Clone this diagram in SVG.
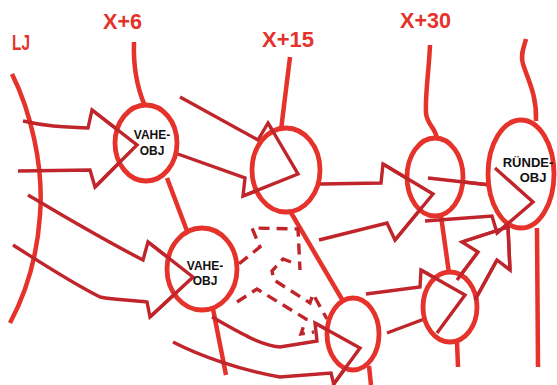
<svg xmlns="http://www.w3.org/2000/svg" width="557" height="385" viewBox="0 0 557 385">
<style>
.bg{fill:#ffffff}
.cell{fill:#ffffff;stroke:#e5322a;stroke-width:4.8}
.axon{fill:none;stroke:#e5322a;stroke-width:4.5;stroke-linecap:butt;stroke-linejoin:round}
.dend{fill:none;stroke:#c0252b;stroke-width:3.4;stroke-linejoin:miter;stroke-miterlimit:10}
.dash{fill:none;stroke:#c0252b;stroke-width:3.4;stroke-dasharray:11 7}
.lbl{font-family:"Liberation Sans",Arial,sans-serif;font-size:22px;font-weight:bold;fill:#e5322a}
.nt{font-family:"Liberation Sans",Arial,sans-serif;font-size:12px;font-weight:bold;fill:#111111;text-anchor:middle}
</style>
<rect class="bg" x="0" y="0" width="557" height="385"/>
<g id="labels">
<text class="lbl" x="12" y="50" textLength="18" lengthAdjust="spacingAndGlyphs">LJ</text>
<text class="lbl" x="103" y="29" textLength="39" lengthAdjust="spacingAndGlyphs">X+6</text>
<text class="lbl" x="262" y="47" textLength="52" lengthAdjust="spacingAndGlyphs">X+15</text>
<text class="lbl" x="400" y="28" textLength="51" lengthAdjust="spacingAndGlyphs">X+30</text>
</g>
<g id="connectors">
<path class="axon" d="M12,74 C30,110 44,165 40,215 C37,260 25,295 10,323"/>
<path class="axon" d="M134,42 C133,70 138,90 145,106"/>
<path class="axon" d="M167,178 L187,231"/>
<path class="axon" d="M213,309 L226,375"/>
<path class="axon" d="M290,57 L281,130"/>
<path class="axon" d="M290,211 L343,301"/>
<path class="axon" d="M369,366 L371,385"/>
<path class="axon" d="M430,45 C429,70 425,95 426,113 C427,125 436,128 437,139"/>
<path class="axon" d="M441,216 L449,273"/>
<path class="axon" d="M457,342 L458,367"/>
<path class="axon" d="M526,39 C524,47 520,55 523,64 C528,80 537,95 536,121"/>
<path class="axon" d="M537,228 L538,367"/>
<path class="dend" d="M23,121 C45,126 60,127 88,128 L92,110 L137,145 L95,187 L90,170 L18,171"/>
<path class="dend" d="M180,97 L258,140 L268,123 L298,174 L243,196 L245,178 L175,153"/>
<path class="dend" d="M320,184 L381,183 L383,164 L433,194 L395,240 L387,223 L319,240"/>
<path class="dend" d="M428,178 L490,185 L495,168 L533,202 L497,233 L492,216 L425,221"/>
<path class="dend" d="M457,280 L478,252 L462,242 L508,227 L510,270 L497,260 L475,300"/>
<path class="dend" d="M366,294 L420,287 L421,270 L465,295 L437,333 L427,318 L387,333"/>
<path class="dend" d="M28,195 C60,214 100,238 143,260 L148,242 L193,277 L150,317 L147,302 C130,300 115,300 100,297 C70,282 40,262 13,245"/>
<path class="dend" d="M212,317 C240,333 260,345 280,347 L317,341 L315,323 L360,348 L333,385"/>
<path class="dend" d="M173,342 C200,356 240,370 280,377 L331,373 L334,385"/>
<path class="dash" d="M225,275 L260,247 L252,228 L298,229 L300,270"/>
<path class="dash" d="M291,262 L283,259 L272,271 L274,280 L310,303 L313,294 L327,319"/>
<path class="dash" d="M237,302 L257,289 L306,319 L301,334 L314,332"/>
</g>
<g id="node-vahe1">
<ellipse class="cell" cx="146" cy="143" rx="31" ry="38"/>
<path class="dend" d="M92,110 L137,145 L95,187"/>
<text class="nt" x="152" y="139">VAHE-</text>
<text class="nt" x="152" y="155">OBJ</text>
</g>
<g id="node-x15">
<ellipse class="cell" cx="286" cy="170" rx="34" ry="42"/>
<path class="dend" d="M268,123 L298,174 L243,196"/>
</g>
<g id="node-x30">
<ellipse class="cell" cx="435" cy="177" rx="28" ry="39"/>
<path class="dend" d="M383,164 L433,194 L395,240 M428,178 L490,185"/>
</g>
<g id="node-runde">
<ellipse class="cell" cx="521" cy="174" rx="33" ry="54"/>
<path class="dend" d="M495,168 L533,202 L497,233 M462,242 L508,227 L510,270"/>
<text class="nt" x="528" y="167" style="font-size:13px">RÜNDE-</text>
<text class="nt" x="533" y="182" style="font-size:13px">OBJ</text>
</g>
<g id="node-vahe2">
<ellipse class="cell" cx="202" cy="269" rx="35" ry="41"/>
<path class="dend" d="M148,242 L193,277 L150,317"/>
<text class="nt" x="205" y="270">VAHE-</text>
<text class="nt" x="205" y="285">OBJ</text>
</g>
<g id="node-bottom">
<ellipse class="cell" cx="353" cy="334" rx="26" ry="36"/>
<path class="dend" d="M315,323 L360,348 L333,385"/>
</g>
<g id="node-lowright">
<ellipse class="cell" cx="450" cy="307" rx="27" ry="35"/>
<path class="dend" d="M421,270 L465,295 L437,333 M457,280 L478,252 M475,300 L497,260"/>
</g>
</svg>
